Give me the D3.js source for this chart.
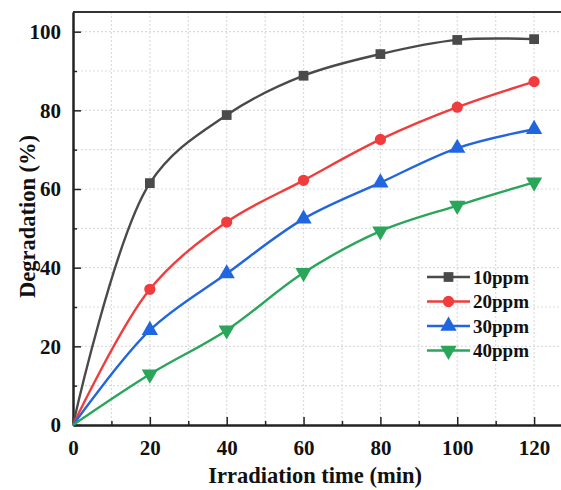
<!DOCTYPE html>
<html>
<head>
<meta charset="utf-8">
<script src="https://cdn.jsdelivr.net/npm/d3@7"></script>
<style>
  body { margin: 0; background: #fff; }
  text { font-family: "Liberation Serif", "Times New Roman", serif; font-weight: bold; }
</style>
</head>
<body>
<div id="chart"></div>
<script>
// data
const times = [0, 20, 40, 60, 80, 100, 120];
const seriesNames = ["10ppm", "20ppm", "30ppm", "40ppm"];
const ppm10 = [0, 61.5, 78.8, 88.8, 94.3, 97.9, 98.1];
const ppm20 = [0, 34.5, 51.6, 62.2, 72.6, 80.8, 87.3];
const ppm30 = [0, 24.1, 38.5, 52.4, 61.6, 70.4, 75.2];
const ppm40 = [0, 12.9, 24.1, 38.7, 49.3, 55.8, 61.7];
const xTicks = [0, 20, 40, 60, 80, 100, 120];
const yTicks = [0, 20, 40, 60, 80, 100];

const colors = ["#4a4a4a", "#f03c3c", "#2166de", "#2aa65a"];
const symbols = [d3.symbolSquare, d3.symbolCircle, d3.symbolTriangle, d3.symbolTriangle];
const symSizes = [95, 100, 115, 115];
const allSeries = [ppm10, ppm20, ppm30, ppm40];

const W = 561, H = 490;
const margin = { top: 12, right: 0, bottom: 65, left: 73 };
const width = W - margin.left - margin.right;
const height = H - margin.top - margin.bottom;

const svg = d3.select("#chart").append("svg")
  .attr("width", W).attr("height", H);
const g = svg.append("g").attr("transform", `translate(${margin.left},${margin.top})`);

const x = d3.scaleLinear().domain([0, 127]).range([0, width]);
const y = d3.scaleLinear().domain([0, 105]).range([height, 0]);

// dotted grid at major and minor positions
const gridX = d3.range(10, 127, 10);
const gridY = d3.range(10, 105, 10);
g.append("g").selectAll("line").data(gridX).join("line")
  .attr("x1", d => x(d)).attr("x2", d => x(d))
  .attr("y1", 0).attr("y2", height)
  .attr("stroke", "#dcdcdc").attr("stroke-width", 1.2).attr("stroke-dasharray", "2,2");
g.append("g").selectAll("line").data(gridY).join("line")
  .attr("x1", 0).attr("x2", width)
  .attr("y1", d => y(d)).attr("y2", d => y(d))
  .attr("stroke", "#dcdcdc").attr("stroke-width", 1.2).attr("stroke-dasharray", "2,2");

// top frame line
g.append("line").attr("x1", 0).attr("x2", width).attr("y1", 0).attr("y2", 0)
  .attr("stroke", "#333").attr("stroke-width", 2);

// axes (ticks point inward)
const xAxis = g.append("g").attr("transform", `translate(0,${height})`)
  .call(d3.axisBottom(x).tickValues(xTicks).tickSize(-8).tickSizeOuter(0).tickPadding(15).tickFormat(d3.format("d")));
const xMinor = g.append("g").attr("transform", `translate(0,${height})`)
  .call(d3.axisBottom(x).tickValues(d3.range(10, 127, 20)).tickSize(-4).tickSizeOuter(0).tickFormat(""));
const yAxis = g.append("g")
  .call(d3.axisLeft(y).tickValues(yTicks).tickSize(-8).tickSizeOuter(0).tickPadding(12).tickFormat(d3.format("d")));
const yMinor = g.append("g")
  .call(d3.axisLeft(y).tickValues(d3.range(10, 105, 20)).tickSize(-4).tickSizeOuter(0).tickFormat(""));

[xAxis, xMinor, yAxis, yMinor].forEach(a => {
  a.attr("font-family", null).attr("font-size", null);
  a.select(".domain").attr("stroke", "#222").attr("stroke-width", 2);
  a.selectAll(".tick line").attr("stroke", "#222").attr("stroke-width", 1.5);
  a.selectAll(".tick text").attr("fill", "#111").style("font-size", "21px");
});
yAxis.selectAll(".tick text").attr("x", -12);

// lines and markers
const line = d3.line()
  .x((d, i) => x(times[i]))
  .y(d => y(d))
  .curve(d3.curveCatmullRom.alpha(0.5));

allSeries.forEach((vals, s) => {
  g.append("path").datum(vals)
    .attr("fill", "none")
    .attr("stroke", colors[s])
    .attr("stroke-width", 2.4)
    .attr("d", line);
  g.append("g").selectAll("path").data(vals.slice(1)).join("path")
    .attr("transform", (d, i) => `translate(${x(times[i + 1])},${y(d)})` + (s === 3 ? " rotate(180)" : ""))
    .attr("d", d3.symbol().type(symbols[s]).size(symSizes[s]))
    .attr("fill", colors[s]);
});

// legend
const legend = g.append("g").attr("transform", `translate(${427 - margin.left},${277 - margin.top})`);
seriesNames.forEach((name, i) => {
  const row = legend.append("g").attr("transform", `translate(0,${i * 24.5})`);
  row.append("line").attr("x1", 0).attr("x2", 43).attr("y1", 0).attr("y2", 0)
    .attr("stroke", colors[i]).attr("stroke-width", 2.4);
  row.append("path")
    .attr("transform", `translate(21.5,0)` + (i === 3 ? " rotate(180)" : ""))
    .attr("d", d3.symbol().type(symbols[i]).size(symSizes[i]))
    .attr("fill", colors[i]);
  row.append("text").attr("x", 46).attr("y", 6.5)
    .style("font-size", "19px").attr("fill", "#111").text(name);
});

// axis titles
svg.append("text")
  .attr("x", margin.left + x(63)).attr("y", 483)
  .attr("text-anchor", "middle").style("font-size", "22.5px").attr("fill", "#111")
  .text("Irradiation time (min)");
svg.append("text")
  .attr("transform", `translate(35,${margin.top + y(53)}) rotate(-90)`)
  .attr("text-anchor", "middle").style("font-size", "22.5px").attr("fill", "#111")
  .text("Degradation (%)");
</script>
</body>
</html>
